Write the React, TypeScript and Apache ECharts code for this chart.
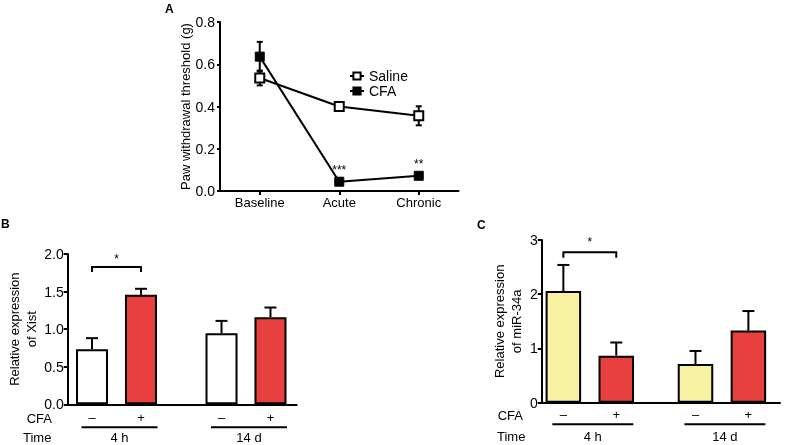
import React, { useEffect, useRef } from 'react';
import * as echarts from 'echarts';

// ---------- Panel A data ----------
const timepoints = ['Baseline', 'Acute', 'Chronic'];
const salineThreshold = [0.535, 0.4, 0.356];
const salineThresholdErr = [0.035, 0.008, 0.045];
const cfaThreshold = [0.636, 0.044, 0.072];
const cfaThresholdErr = [0.07, 0.005, 0.005];
const cfaSignificance = ['', '***', '**'];

// ---------- Panels B / C data ----------
const timeGroups = ['4 h', '14 d'];
const cfaSigns = ['–', '+'];

const xistControl = [0.733, 0.947];
const xistControlErr = [0.147, 0.163];
const xistCFA = [1.457, 1.16];
const xistCFAErr = [0.08, 0.128];
const xistBracket = [1.827, 1.76, 1.937]; // top, drop, star

const mirControl = [2.06, 0.714];
const mirControlErr = [0.48, 0.24];
const mirCFA = [0.867, 1.33];
const mirCFAErr = [0.243, 0.36];
const mirBracket = [2.775, 2.675, 2.965];

const FONT = 'Liberation Sans, Arial, Helvetica, sans-serif';
const BLACK = '#000';
const RED = '#e8403f';
const YELLOW = '#f8f1a2';

function barPanel(opts: any) {
  const {
    barsIdx, control, controlErr, cfa, cfaErr, bracket,
    barWidth, gapPct, controlColor, underlineHalf,
  } = opts;
  const offset = (barWidth + barWidth * gapPct / 100) / 2;
  const errSeries = (values: number[], errs: number[], dx: number) => ({
    type: 'custom',
    xAxisIndex: barsIdx,
    yAxisIndex: barsIdx,
    z: 5,
    silent: true,
    encode: { x: 0, y: 1 },
    data: values.map((v, i) => [i, v, errs[i]]),
    renderItem: (_p: any, api: any) => {
      const base = api.coord([api.value(0), api.value(1)]);
      const top = api.coord([api.value(0), api.value(1) + api.value(2)]);
      const x = base[0] + dx;
      return {
        type: 'group',
        children: [
          { type: 'line', shape: { x1: x, y1: base[1], x2: x, y2: top[1] }, style: { stroke: BLACK, lineWidth: 2 } },
          { type: 'line', shape: { x1: x - 6, y1: top[1], x2: x + 6, y2: top[1] }, style: { stroke: BLACK, lineWidth: 2 } },
        ],
      };
    },
  });
  const barLabel = (sign: string, dist: number) => ({
    show: true,
    position: 'bottom',
    distance: dist,
    formatter: () => sign,
    fontSize: 13,
    color: BLACK,
    fontFamily: FONT,
  });
  return [
    {
      type: 'bar',
      xAxisIndex: barsIdx,
      yAxisIndex: barsIdx,
      data: control,
      barWidth,
      barGap: gapPct + '%',
      itemStyle: { color: controlColor, borderColor: BLACK, borderWidth: 2 },
      label: barLabel(cfaSigns[0], opts.labelDist),
      z: 2,
    },
    {
      type: 'bar',
      xAxisIndex: barsIdx,
      yAxisIndex: barsIdx,
      data: cfa,
      barWidth,
      barGap: gapPct + '%',
      itemStyle: { color: RED, borderColor: BLACK, borderWidth: 2 },
      label: barLabel(cfaSigns[1], opts.labelDist),
      z: 2,
    },
    errSeries(control, controlErr, -offset),
    errSeries(cfa, cfaErr, offset),
    {
      type: 'custom',
      xAxisIndex: barsIdx,
      yAxisIndex: barsIdx,
      z: 5,
      silent: true,
      encode: { x: 0, y: 1 },
      data: [[0, bracket[0], bracket[1], bracket[2]]],
      renderItem: (_p: any, api: any) => {
        const t = api.coord([api.value(0), api.value(1)]);
        const d = api.coord([api.value(0), api.value(2)]);
        const s = api.coord([api.value(0), api.value(3)]);
        const lx = t[0] - offset;
        const rx = t[0] + offset;
        return {
          type: 'group',
          children: [
            {
              type: 'polyline',
              shape: { points: [[lx, d[1]], [lx, t[1]], [rx, t[1]], [rx, d[1]]] },
              style: { stroke: BLACK, lineWidth: 2, fill: 'none' },
            },
            {
              type: 'text',
              x: t[0],
              y: s[1],
              style: { text: '*', fill: BLACK, fontSize: 12, fontFamily: FONT, align: 'center', verticalAlign: 'middle' },
            },
          ],
        };
      },
    },
    {
      type: 'custom',
      xAxisIndex: barsIdx,
      yAxisIndex: barsIdx,
      z: 5,
      silent: true,
      encode: { x: 0, y: 1 },
      data: timeGroups.map((_g, i) => [i, 0]),
      renderItem: (p: any, api: any) => {
        const c = api.coord([api.value(0), 0]);
        const x = c[0] + 3;
        return {
          type: 'group',
          children: [
            {
              type: 'line',
              shape: { x1: x - underlineHalf, y1: c[1] + opts.underlineDy, x2: x + underlineHalf, y2: c[1] + opts.underlineDy },
              style: { stroke: BLACK, lineWidth: 2 },
            },
            {
              type: 'text',
              x,
              y: c[1] + opts.timeDy,
              style: { text: timeGroups[p.dataIndex], fill: BLACK, fontSize: 13, fontFamily: FONT, align: 'center', verticalAlign: 'middle' },
            },
          ],
        };
      },
    },
  ];
}

function frameAxes(gridIndex: number, max: number, interval: number, decimals: number, name: string, nameGap: number, labelSize: number) {
  const x = {
    type: 'value', gridIndex, min: 0, max: 1,
    axisLine: { show: true, onZero: false, lineStyle: { color: BLACK, width: 2 } },
    axisTick: { show: false }, axisLabel: { show: false }, splitLine: { show: false },
  };
  const y = {
    type: 'value', gridIndex, min: 0, max, interval,
    axisLine: { show: true, lineStyle: { color: BLACK, width: 2 } },
    axisTick: { show: true, length: 4, lineStyle: { color: BLACK, width: 2 } },
    axisLabel: { color: BLACK, fontSize: labelSize, fontFamily: FONT, margin: 4, formatter: (v: number) => v.toFixed(decimals) },
    splitLine: { show: false },
    name, nameLocation: 'middle', nameGap,
    nameTextStyle: { color: BLACK, fontSize: 13, fontFamily: FONT, lineHeight: 17 },
  };
  return { x, y };
}

function hiddenAxes(gridIndex: number, max: number) {
  return {
    x: { type: 'category', gridIndex, data: timeGroups, show: false },
    y: { type: 'value', gridIndex, min: 0, max, show: false },
  };
}

export default function App() {
  const ref = useRef<HTMLDivElement>(null);
  useEffect(() => {
    if (!ref.current) return;
    const chart = echarts.init(ref.current, null, { renderer: 'svg' });

    const bFrame = frameAxes(1, 2, 0.5, 1, 'Relative expression\nof Xist', 22, 14);
    const bBars = hiddenAxes(2, 2);
    const cFrame = frameAxes(3, 3, 1, 0, 'Relative expression\nof miR-34a', 17, 14);
    const cBars = hiddenAxes(4, 3);

    const errA = (values: number[], errs: number[]) => ({
      type: 'custom',
      xAxisIndex: 0,
      yAxisIndex: 0,
      z: 1,
      silent: true,
      encode: { x: 0, y: 1 },
      data: values.map((v, i) => [i, v, errs[i]]),
      renderItem: (_p: any, api: any) => {
        const top = api.coord([api.value(0), api.value(1) + api.value(2)]);
        const bot = api.coord([api.value(0), api.value(1) - api.value(2)]);
        const x = top[0];
        return {
          type: 'group',
          children: [
            { type: 'line', shape: { x1: x, y1: top[1], x2: x, y2: bot[1] }, style: { stroke: BLACK, lineWidth: 2 } },
            { type: 'line', shape: { x1: x - 3, y1: top[1], x2: x + 3, y2: top[1] }, style: { stroke: BLACK, lineWidth: 2 } },
            { type: 'line', shape: { x1: x - 3, y1: bot[1], x2: x + 3, y2: bot[1] }, style: { stroke: BLACK, lineWidth: 2 } },
          ],
        };
      },
    });

    chart.setOption({
      animation: false,
      textStyle: { fontFamily: FONT, color: BLACK },
      legend: {
        data: ['Saline', 'CFA'],
        orient: 'vertical',
        left: 344,
        top: 64,
        itemWidth: 14,
        itemHeight: 9,
        itemGap: 1,
        textStyle: { fontSize: 14, color: BLACK, fontFamily: FONT },
      },
      grid: [
        { left: 220, top: 22, width: 238.5, height: 169 },
        { left: 67.7, top: 254, width: 229, height: 150.3 },
        { left: 51.75, top: 254, width: 259, height: 150.3 },
        { left: 541.7, top: 240, width: 238.3, height: 162.7 },
        { left: 523.75, top: 240, width: 279, height: 162.7 },
      ],
      xAxis: [
        {
          type: 'category', gridIndex: 0, data: timepoints, boundaryGap: true,
          axisLine: { show: true, lineStyle: { color: BLACK, width: 2 } },
          axisTick: { show: true, alignWithLabel: true, length: 4, lineStyle: { color: BLACK, width: 2 } },
          axisLabel: { color: BLACK, fontSize: 13, fontFamily: FONT, margin: 5 },
        },
        bFrame.x, bBars.x, cFrame.x, cBars.x,
      ],
      yAxis: [
        {
          type: 'value', gridIndex: 0, min: 0, max: 0.8, interval: 0.2,
          axisLine: { show: true, lineStyle: { color: BLACK, width: 2 } },
          axisTick: { show: true, length: 3, lineStyle: { color: BLACK, width: 2 } },
          axisLabel: { color: BLACK, fontSize: 14, fontFamily: FONT, margin: 5, formatter: (v: number) => v.toFixed(1) },
          splitLine: { show: false },
          name: 'Paw withdrawal threshold (g)', nameLocation: 'middle', nameGap: 28,
          nameTextStyle: { color: BLACK, fontSize: 13, fontFamily: FONT },
        },
        bFrame.y, bBars.y, cFrame.y, cBars.y,
      ],
      graphic: [
        { type: 'text', left: 165, top: 3, style: { text: 'A', font: 'bold 12px ' + FONT, fill: BLACK } },
        { type: 'text', left: 1, top: 218, style: { text: 'B', font: 'bold 12px ' + FONT, fill: BLACK } },
        { type: 'text', left: 477, top: 219, style: { text: 'C', font: 'bold 12px ' + FONT, fill: BLACK } },
        { type: 'text', x: 52, y: 418, style: { text: 'CFA', fontSize: 13, fontFamily: FONT, fill: BLACK, align: 'right', verticalAlign: 'middle' } },
        { type: 'text', x: 23, y: 437.5, style: { text: 'Time', fontSize: 13, fontFamily: FONT, fill: BLACK, align: 'left', verticalAlign: 'middle' } },
        { type: 'text', x: 523, y: 415, style: { text: 'CFA', fontSize: 13, fontFamily: FONT, fill: BLACK, align: 'right', verticalAlign: 'middle' } },
        { type: 'text', x: 497, y: 436, style: { text: 'Time', fontSize: 13, fontFamily: FONT, fill: BLACK, align: 'left', verticalAlign: 'middle' } },
      ],
      series: [
        errA(salineThreshold, salineThresholdErr),
        errA(cfaThreshold, cfaThresholdErr),
        {
          type: 'line', name: 'Saline', xAxisIndex: 0, yAxisIndex: 0, data: salineThreshold,
          symbol: 'rect', symbolSize: 9, z: 3,
          lineStyle: { color: BLACK, width: 2 },
          itemStyle: { color: '#fff', borderColor: BLACK, borderWidth: 2 },
        },
        {
          type: 'line', name: 'CFA', xAxisIndex: 0, yAxisIndex: 0, data: cfaThreshold,
          symbol: 'rect', symbolSize: 9, z: 4,
          lineStyle: { color: BLACK, width: 2 },
          itemStyle: { color: BLACK, borderColor: BLACK, borderWidth: 1 },
          label: {
            show: true, position: 'top', distance: 1, fontSize: 12, color: BLACK, fontFamily: FONT,
            formatter: (p: any) => cfaSignificance[p.dataIndex],
          },
        },
        ...barPanel({
          barsIdx: 2, control: xistControl, controlErr: xistControlErr,
          cfa: xistCFA, cfaErr: xistCFAErr, bracket: xistBracket,
          barWidth: 32, gapPct: 53, controlColor: '#fff', underlineHalf: 38,
          labelDist: 7, underlineDy: 23, timeDy: 33.5,
        }),
        ...barPanel({
          barsIdx: 4, control: mirControl, controlErr: mirControlErr,
          cfa: mirCFA, cfaErr: mirCFAErr, bracket: mirBracket,
          barWidth: 35.5, gapPct: 49, controlColor: YELLOW, underlineHalf: 40.5,
          labelDist: 5.5, underlineDy: 21.6, timeDy: 33.5,
        }),
      ],
    });
    return () => chart.dispose();
  }, []);
  return <div ref={ref} style={{ position: 'fixed', left: 0, top: 0, width: 788, height: 445 }} />;
}
